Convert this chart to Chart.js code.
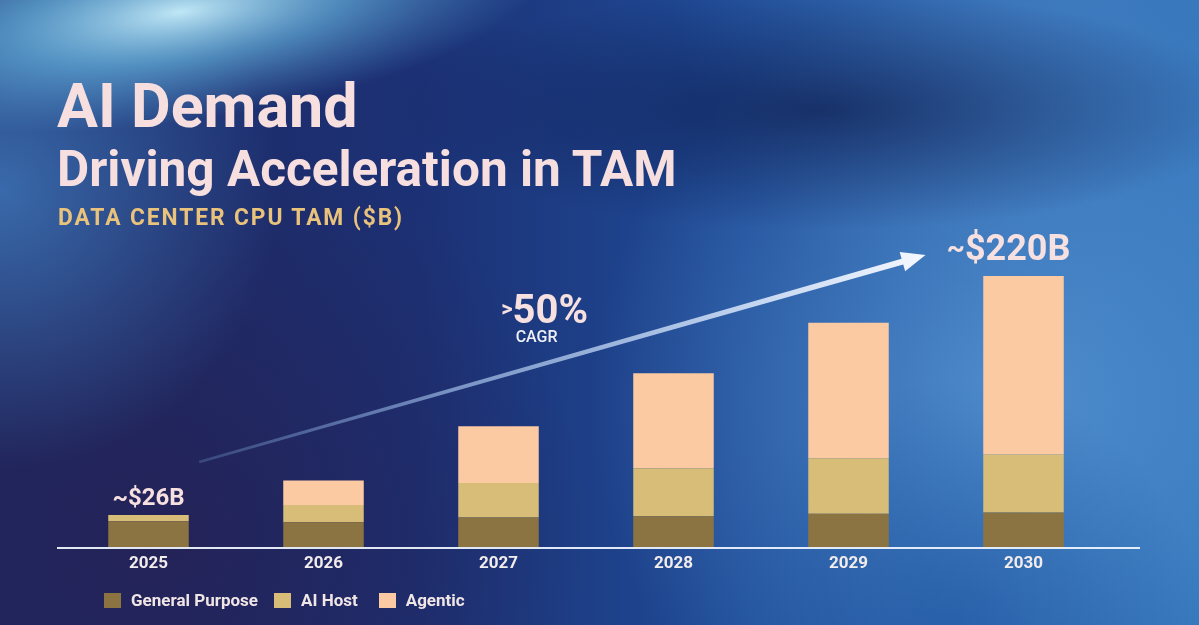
<!DOCTYPE html>
<html>
<head>
<meta charset="utf-8">
<script src="https://cdn.jsdelivr.net/npm/chart.js@4.4.1/dist/chart.umd.min.js"></script>
<style>
  html, body { margin: 0; padding: 0; background: #1d3478; }
  #wrap { position: relative; width: 1199px; height: 625px; overflow: hidden; font-family: Roboto, "Noto Sans", sans-serif; }
  #c { position: absolute; left: 0; top: 0; }
  .txt { position: absolute; white-space: nowrap; line-height: 1; font-weight: 700; transform-origin: 0 0; }
  #t1 { left: 57px; top: 76px; font-size: 61px; color: #f7dfdf; }
  #t2 { left: 57px; top: 144px; font-size: 50px; color: #f7dfdf; transform: scaleX(0.99); }
  #t3 { left: 58px; top: 205px; font-size: 24px; color: #e9c27c; letter-spacing: 2px; transform: scaleX(0.95); }
  #legend { position: absolute; left: 104px; top: 590px; display: flex; align-items: center; }
  .lg { display: flex; align-items: center; }
  .lg i { display: inline-block; width: 17px; height: 15px; margin-right: 10px; }
  .lg span { color: #f1e6e6; font-size: 17px; font-weight: 700; }
</style>
</head>
<body>
<div id="wrap">
  <canvas id="c" width="1199" height="625"></canvas>
  <div class="txt" id="t1">AI Demand</div>
  <div class="txt" id="t2">Driving Acceleration in TAM</div>
  <div class="txt" id="t3">DATA CENTER CPU TAM ($B)</div>
  <div id="legend"></div>
</div>
<script>
// Data center CPU TAM, $B
const years = ['2025', '2026', '2027', '2028', '2029', '2030'];
const generalPurpose = [21, 20, 24, 25, 27, 28];
const aiHost = [5, 14, 28, 39, 45, 47];
const agentic = [0, 20, 46, 77, 110, 145];
const seriesNames = ['General Purpose', 'AI Host', 'Agentic'];
const seriesColors = ['#8c7442', '#d7bd78', '#fbcaa2'];
const totalLabels = ['~$26B', '', '', '', '', '~$220B'];

// legend (html)
const legendEl = document.getElementById('legend');
const legendGap = [16, 21, 0];
seriesNames.forEach(function (name, i) {
  const d = document.createElement('div');
  d.className = 'lg';
  d.style.marginRight = legendGap[i] + 'px';
  d.innerHTML = '<i style="background:' + seriesColors[i] + '"></i><span>' + name + '</span>';
  legendEl.appendChild(d);
});

// slide background
const bgPlugin = {
  id: 'bg',
  beforeDraw(chart) {
    const ctx = chart.ctx, w = chart.width, h = chart.height;
    ctx.save();
    let g = ctx.createLinearGradient(0, 0, w, 0);
    g.addColorStop(0, '#1e2862');
    g.addColorStop(0.35, '#1c3175');
    g.addColorStop(0.62, '#1f4c98');
    g.addColorStop(1, '#2e6fb6');
    ctx.fillStyle = g;
    ctx.fillRect(0, 0, w, h);

    // light blue glow on the right
    g = ctx.createRadialGradient(1010, 400, 0, 1010, 400, 420);
    g.addColorStop(0, 'rgba(105,170,228,0.6)');
    g.addColorStop(1, 'rgba(105,170,228,0)');
    ctx.fillStyle = g;
    ctx.fillRect(0, 0, w, h);

    // dark purple bottom-left
    g = ctx.createRadialGradient(170, 540, 0, 170, 540, 420);
    g.addColorStop(0, 'rgba(38,32,82,0.75)');
    g.addColorStop(1, 'rgba(38,32,82,0)');
    ctx.fillStyle = g;
    ctx.fillRect(0, 0, w, h);

    // lighter blue under the title on the left
    g = ctx.createRadialGradient(0, 190, 0, 0, 190, 280);
    g.addColorStop(0, 'rgba(75,150,220,0.6)');
    g.addColorStop(1, 'rgba(75,150,220,0)');
    ctx.fillStyle = g;
    ctx.fillRect(0, 0, w, h);

    // top-right medium blue
    g = ctx.createRadialGradient(1050, -40, 0, 1050, -40, 380);
    g.addColorStop(0, 'rgba(80,140,205,0.55)');
    g.addColorStop(1, 'rgba(80,140,205,0)');
    ctx.fillStyle = g;
    ctx.fillRect(0, 0, w, h);

    // dark band behind the title, middle and right
    ctx.save();
    ctx.translate(820, 110);
    ctx.scale(3.6, 1);
    g = ctx.createRadialGradient(0, 0, 0, 0, 0, 120);
    g.addColorStop(0, 'rgba(14,28,78,0.7)');
    g.addColorStop(1, 'rgba(14,28,78,0)');
    ctx.fillStyle = g;
    ctx.fillRect(-200, -130, 400, 260);
    ctx.restore();

    // cyan streak top-left
    ctx.save();
    ctx.translate(180, 12);
    ctx.rotate(-0.14);
    ctx.scale(3.4, 1);
    g = ctx.createRadialGradient(0, 0, 0, 0, 0, 110);
    g.addColorStop(0, 'rgba(200,240,252,0.95)');
    g.addColorStop(0.45, 'rgba(110,195,235,0.6)');
    g.addColorStop(1, 'rgba(90,170,225,0)');
    ctx.fillStyle = g;
    ctx.fillRect(-120, -120, 240, 240);
    ctx.restore();

    // bottom-right blue
    g = ctx.createRadialGradient(950, 640, 0, 950, 640, 260);
    g.addColorStop(0, 'rgba(30,85,160,0.6)');
    g.addColorStop(1, 'rgba(30,85,160,0)');
    ctx.fillStyle = g;
    ctx.fillRect(0, 0, w, h);
    ctx.restore();
  }
};

// baseline, CAGR arrow, labels
const annoPlugin = {
  id: 'anno',
  afterDatasetsDraw(chart, args, opts) {
    const ctx = chart.ctx, xs = chart.scales.x, ys = chart.scales.y, area = chart.chartArea;
    ctx.save();

    // axis line
    ctx.strokeStyle = 'rgba(236,242,252,0.95)';
    ctx.lineWidth = 2;
    ctx.beginPath();
    ctx.moveTo(area.left - 4, area.bottom + 1);
    ctx.lineTo(area.right + 29, area.bottom + 1);
    ctx.stroke();

    // arrow
    const x0 = xs.getPixelForValue(opts.arrowFrom[0]), y0 = ys.getPixelForValue(opts.arrowFrom[1]);
    const x1 = xs.getPixelForValue(opts.arrowTo[0]), y1 = ys.getPixelForValue(opts.arrowTo[1]);
    const ang = Math.atan2(y1 - y0, x1 - x0);
    const headLen = 24, headW = 10;
    const bx = x1 - Math.cos(ang) * headLen, by = y1 - Math.sin(ang) * headLen;
    const nx = -Math.sin(ang), ny = Math.cos(ang);
    const g = ctx.createLinearGradient(x0, y0, x1, y1);
    g.addColorStop(0, 'rgba(130,175,230,0.25)');
    g.addColorStop(0.35, 'rgba(170,200,240,0.65)');
    g.addColorStop(1, 'rgba(245,248,255,1)');
    ctx.fillStyle = g;
    ctx.beginPath();
    ctx.moveTo(x0 + nx * 1.2, y0 + ny * 1.2);
    ctx.lineTo(bx + nx * 3, by + ny * 3);
    ctx.lineTo(bx + nx * headW, by + ny * headW);
    ctx.lineTo(x1, y1);
    ctx.lineTo(bx - nx * headW, by - ny * headW);
    ctx.lineTo(bx - nx * 3, by - ny * 3);
    ctx.lineTo(x0 - nx * 1.2, y0 - ny * 1.2);
    ctx.closePath();
    ctx.fill();

    // CAGR label along the arrow
    const t = opts.cagrAt;
    const cx = x0 + (x1 - x0) * t, cy = y0 + (y1 - y0) * t;
    ctx.fillStyle = '#f7e0e0';
    ctx.textBaseline = 'alphabetic';
    ctx.font = '700 40px Roboto';
    ctx.textAlign = 'left';
    const bigW = ctx.measureText(opts.cagrValue).width;
    ctx.font = '700 22px Roboto';
    const smallW = ctx.measureText(opts.cagrPrefix).width;
    const startX = cx - (bigW + smallW) / 2 + 4;
    ctx.fillText(opts.cagrPrefix, startX, cy - 49);
    ctx.font = '700 40px Roboto';
    ctx.fillText(opts.cagrValue, startX + smallW, cy - 42);
    ctx.fillStyle = '#eef0f6';
    ctx.font = '500 16px Roboto';
    ctx.textAlign = 'center';
    ctx.fillText(opts.cagrText, cx - 4, cy - 23);

    // totals above bars
    const metas = chart.getSortedVisibleDatasetMetas();
    const top = metas[metas.length - 1];
    totalLabels.forEach(function (lab, i) {
      if (!lab) return;
      const bar = top.data[i];
      const x = bar.x;
      ctx.fillStyle = '#f7e0e0';
      if (i === totalLabels.length - 1) {
        const tilde = lab.slice(0, 1), rest = lab.slice(1);
        ctx.font = '700 36px Roboto';
        const rw = ctx.measureText(rest).width;
        ctx.font = '700 28px Roboto';
        const tw = ctx.measureText(tilde).width;
        const sx = x + 47 - rw - tw;
        ctx.textAlign = 'left';
        ctx.fillText(tilde, sx, bar.y - 19);
        ctx.font = '700 36px Roboto';
        ctx.fillText(rest, sx + tw, bar.y - 16);
      } else {
        ctx.font = '700 24px Roboto';
        ctx.textAlign = 'center';
        ctx.fillText(lab, x, bar.y - 10);
      }
    });
    ctx.restore();
  }
};

const datasets = [generalPurpose, aiHost, agentic].map(function (vals, i) {
  return {
    label: seriesNames[i],
    data: vals,
    backgroundColor: seriesColors[i],
    borderWidth: 0,
    barPercentage: 0.46,
    categoryPercentage: 1
  };
});

new Chart(document.getElementById('c').getContext('2d'), {
  type: 'bar',
  data: { labels: years, datasets: datasets },
  options: {
    responsive: false,
    animation: false,
    layout: { padding: { left: 61, right: 88, top: 239, bottom: 48 } },
    plugins: {
      legend: { display: false },
      tooltip: { enabled: false },
      anno: {
        arrowFrom: [0.29, 69],
        arrowTo: [4.44, 237],
        cagrAt: 0.47,
        cagrPrefix: '>',
        cagrValue: '50%',
        cagrText: 'CAGR'
      }
    },
    scales: {
      x: {
        stacked: true,
        grid: { display: false, drawTicks: false },
        border: { display: false },
        ticks: { color: '#f3ecec', padding: 7, font: { family: 'Roboto', size: 17, weight: 'bold' } },
        afterFit: function (s) { s.height = 30; }
      },
      y: { stacked: true, display: false, min: 0, max: 250 }
    }
  },
  plugins: [bgPlugin, annoPlugin]
});
</script>
</body>
</html>
